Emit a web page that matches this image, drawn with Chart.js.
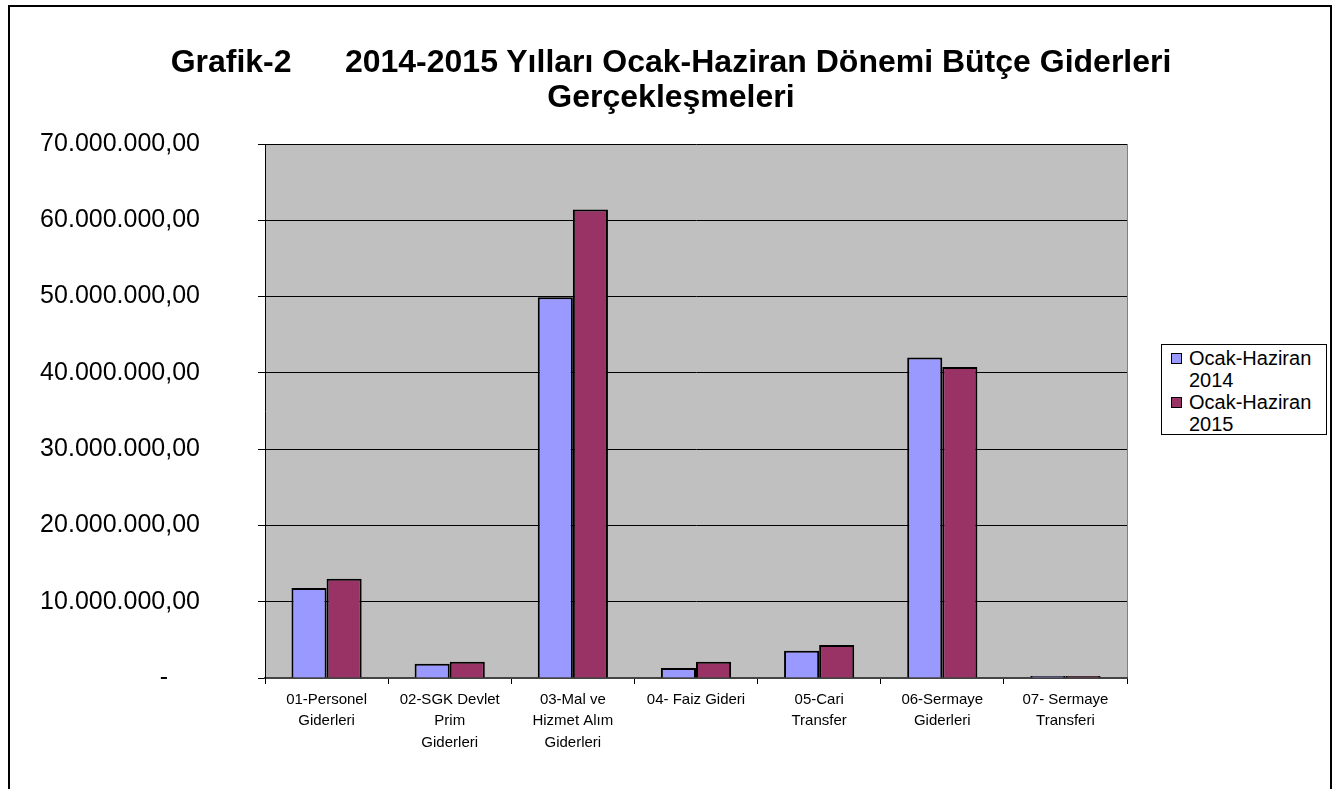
<!DOCTYPE html>
<html>
<head>
<meta charset="utf-8">
<script src="https://cdn.jsdelivr.net/npm/chart.js@4.4.1/dist/chart.umd.min.js"></script>
<style>
  html, body { margin:0; padding:0; background:#fff; overflow:hidden; }
  body { width:1342px; height:789px; position:relative; font-family:"Liberation Sans", Arial, sans-serif; }
  #frame { position:absolute; left:8px; top:5px; width:1324px; height:820px; border:2px solid #000; box-sizing:border-box; }
  #wrap { position:absolute; left:0; top:0; width:1342px; height:789px; }
  #title { position:absolute; left:0; top:44px; width:1342px; text-align:center; font-weight:bold; font-size:32px; line-height:35px; color:#000; white-space:pre; }
  #legend { position:absolute; left:1161px; top:344px; width:166px; height:91px; border:1px solid #000; box-sizing:border-box; background:#fff; font-size:20px; line-height:22px; padding-top:2px; }
  .item { position:relative; padding-left:27px; }
  .sw { position:absolute; left:9px; top:6px; width:11px; height:11px; border:1px solid #000; box-sizing:border-box; }
</style>
</head>
<body>
<div id="frame"></div>
<div id="wrap"><canvas id="c" width="1342" height="789"></canvas></div>
<div id="title">Grafik-2      2014-2015 Yılları Ocak-Haziran Dönemi Bütçe Giderleri
Gerçekleşmeleri</div>
<div id="legend"></div>
<script>
const categories = [
  ["01-Personel","Giderleri"],
  ["02-SGK Devlet","Prim","Giderleri"],
  ["03-Mal ve","Hizmet Alım","Giderleri"],
  ["04- Faiz Gideri"],
  ["05-Cari","Transfer"],
  ["06-Sermaye","Giderleri"],
  ["07- Sermaye","Transferi"]
];
const seriesNames = [["Ocak-Haziran","2014"],["Ocak-Haziran","2015"]];
const values2014 = [11800000, 1870000, 49900000, 1310000, 3580000, 42000000, 260000];
const values2015 = [13000000, 2140000, 61400000, 2140000, 4320000, 40760000, 270000];
const colors = ["#9999FF", "#993366"];
const yMax = 70000000;
const yStep = 10000000;

function fmt(v){
  if (v === 0) return "-\u2003 ";
  const s = Math.round(v).toString().replace(/\B(?=(\d{3})+(?!\d))/g, ".");
  return s + ",00";
}

const bgPlugin = {
  id:'plotBg',
  beforeDraw(chart){
    const a = chart.chartArea, ctx = chart.ctx;
    ctx.save();
    ctx.fillStyle = '#C0C0C0';
    ctx.fillRect(a.left, a.top, a.right - a.left, a.bottom - a.top);
    ctx.strokeStyle = '#808080';
    ctx.lineWidth = 1;
    ctx.beginPath();
    ctx.moveTo(a.right + 0.5, a.top);
    ctx.lineTo(a.right + 0.5, a.bottom);
    ctx.stroke();
    ctx.restore();
  }
};

new Chart(document.getElementById('c'), {
  type:'bar',
  data:{
    labels: categories,
    datasets:[
      { label: seriesNames[0].join(' '), data: values2014, backgroundColor: colors[0], borderColor:'#000', borderWidth:2, borderSkipped:'bottom' },
      { label: seriesNames[1].join(' '), data: values2015, backgroundColor: colors[1], borderColor:'#000', borderWidth:2, borderSkipped:'bottom' }
    ]
  },
  options:{
    responsive:false,
    animation:false,
    devicePixelRatio:1,
    layout:{ padding:{ top:144, right:215, bottom:0, left:0 } },
    plugins:{ legend:{ display:false }, title:{ display:false }, tooltip:{ enabled:false } },
    datasets:{ bar:{ categoryPercentage:0.57, barPercentage:1.0 } },
    scales:{
      x:{
        grid:{ display:true, drawOnChartArea:false, offset:true, tickLength:6, color:'#000' },
        border:{ display:true, color:'#444', width:2 },
        ticks:{ color:'#000', font:{ family:'"Liberation Sans", Arial, sans-serif', size:15, lineHeight:1.43 }, padding:5, maxRotation:0, autoSkip:false },
        afterFit(s){ s.height = 111; }
      },
      y:{
        min:0, max:yMax,
        grid:{ color:'#000', lineWidth:1, tickLength:7, drawTicks:true },
        border:{ display:true, color:'#000', width:1 },
        ticks:{ stepSize:yStep, color:'#000', font:{ family:'"Liberation Sans", Arial, sans-serif', size:25 }, padding:58, callback:(v)=>fmt(v) },
        afterFit(s){ s.width = 265; }
      }
    }
  },
  plugins:[bgPlugin]
});

const lg = document.getElementById('legend');
seriesNames.forEach((n,i)=>{
  const d = document.createElement('div');
  d.className = 'item';
  d.innerHTML = '<span class="sw" style="background:'+colors[i]+'"></span>' + n[0] + '<br>' + n[1];
  lg.appendChild(d);
});
</script>
</body>
</html>
